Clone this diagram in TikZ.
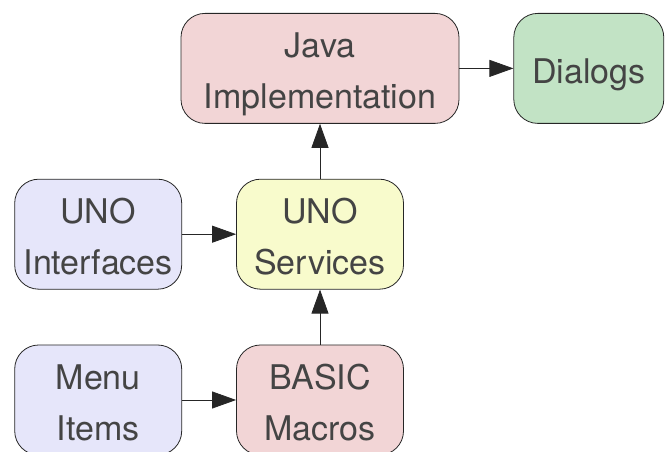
\documentclass[tikz,border=0pt]{standalone}
\usepackage{fontspec}
\setmainfont{TeX Gyre Heros}
\usepackage{tikz}
\usetikzlibrary{arrows.meta, positioning}
\usepackage{xcolor}
\definecolor{implpink}{HTML}{F2D5D6}
\definecolor{srcblue}{HTML}{E6E6FA}
\definecolor{unoyellow}{HTML}{F8FBCC}
\definecolor{dlggreen}{HTML}{C2E3C5}
\definecolor{labelgray}{HTML}{444444}

\begin{document}
\begin{tikzpicture}[
    node distance=55pt and 54pt,
    block/.style={rectangle, rounded corners=24pt, draw=black!85, line width=0.8pt, minimum width=167pt, minimum height=110pt, inner sep=2pt, align=center, text=labelgray, text height=81pt, text depth=0pt, font=\fontsize{34}{51}\selectfont},
    flow/.style={-{Triangle[length=24pt, width=17pt]}, line width=0.8pt, black!85}]
\path[use as bounding box] (0pt,0pt) rectangle (670pt,452pt);
\node[block, fill=implpink] (basic) at (320pt,52pt) {BASIC\\Macros};
\node[block, fill=unoyellow, above=of basic] (services) {UNO\\Services};
\node[block, fill=implpink, minimum width=278pt, above=of services] (java) {Java\\Implementation};
\node[block, fill=dlggreen, minimum width=150pt, text height=30pt, right=of java] (dialogs) {Dialogs};
\node[block, fill=srcblue, left=of services] (iface) {UNO\\Interfaces};
\node[block, fill=srcblue, left=of basic] (menu) {Menu\\Items};
\foreach \src/\dest in {menu/basic, iface/services, basic/services, services/java, java/dialogs}
    \draw[flow] (\src) -- (\dest);
\end{tikzpicture}
\end{document}
